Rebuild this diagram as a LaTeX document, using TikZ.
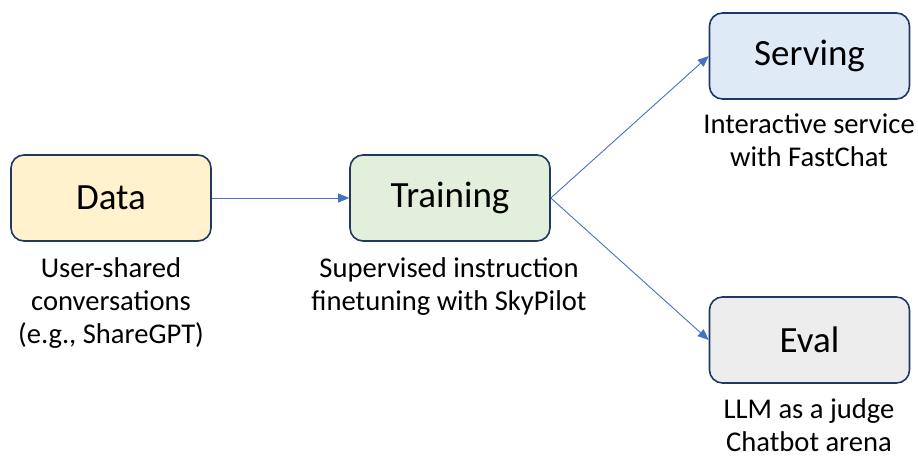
\documentclass[tikz,border=0pt]{standalone}
\usepackage{fontspec}
\setmainfont{Carlito}
\usetikzlibrary{arrows.meta}
\definecolor{boxborder}{HTML}{203864}
\definecolor{arrowblue}{HTML}{4472C4}
\definecolor{datafill}{HTML}{FFF2CC}
\definecolor{trainfill}{HTML}{E2EFDA}
\definecolor{servefill}{HTML}{DEEBF7}
\definecolor{evalfill}{HTML}{EDEDED}
\tikzset{
  stagebox/.style={draw=boxborder, line width=1.6pt, rounded corners=13pt,
    minimum width=200pt, minimum height=86pt, inner sep=0pt,
    font=\fontsize{37}{44}\selectfont},
  caption/.style={anchor=north, align=center, inner sep=0pt,
    font=\fontsize{28.6}{33}\selectfont},
  flow/.style={draw=arrowblue, line width=0.9pt, -{Triangle[length=11pt,width=9pt]}}
}
\begin{document}
\begin{tikzpicture}[x=1pt,y=-1pt]
\useasboundingbox (0,0) rectangle (918,455);
\node[stagebox, fill=datafill] (data) at (111,198) {Data};
\node[stagebox, fill=trainfill] (train) at (450,198) {Training};
\node[stagebox, fill=servefill] (serve) at (809.5,56) {Serving};
\node[stagebox, fill=evalfill] (eval) at (809.5,340) {Eval};
\node[caption] (datacap) at (111,257) {User-shared\\conversations\\(e.g., ShareGPT)};
\node[caption] (traincap) at (449,257) {Supervised instruction\\finetuning with SkyPilot};
\node[caption] (servecap) at (809,114) {Interactive service\\with FastChat};
\node[caption] (evalcap) at (809,398) {LLM as a judge\\Chatbot arena};
\draw[flow] (data.east) -- (train.west);
\draw[flow] (train.east) -- (serve.west);
\draw[flow] (train.east) -- (eval.west);
\end{tikzpicture}
\end{document}
